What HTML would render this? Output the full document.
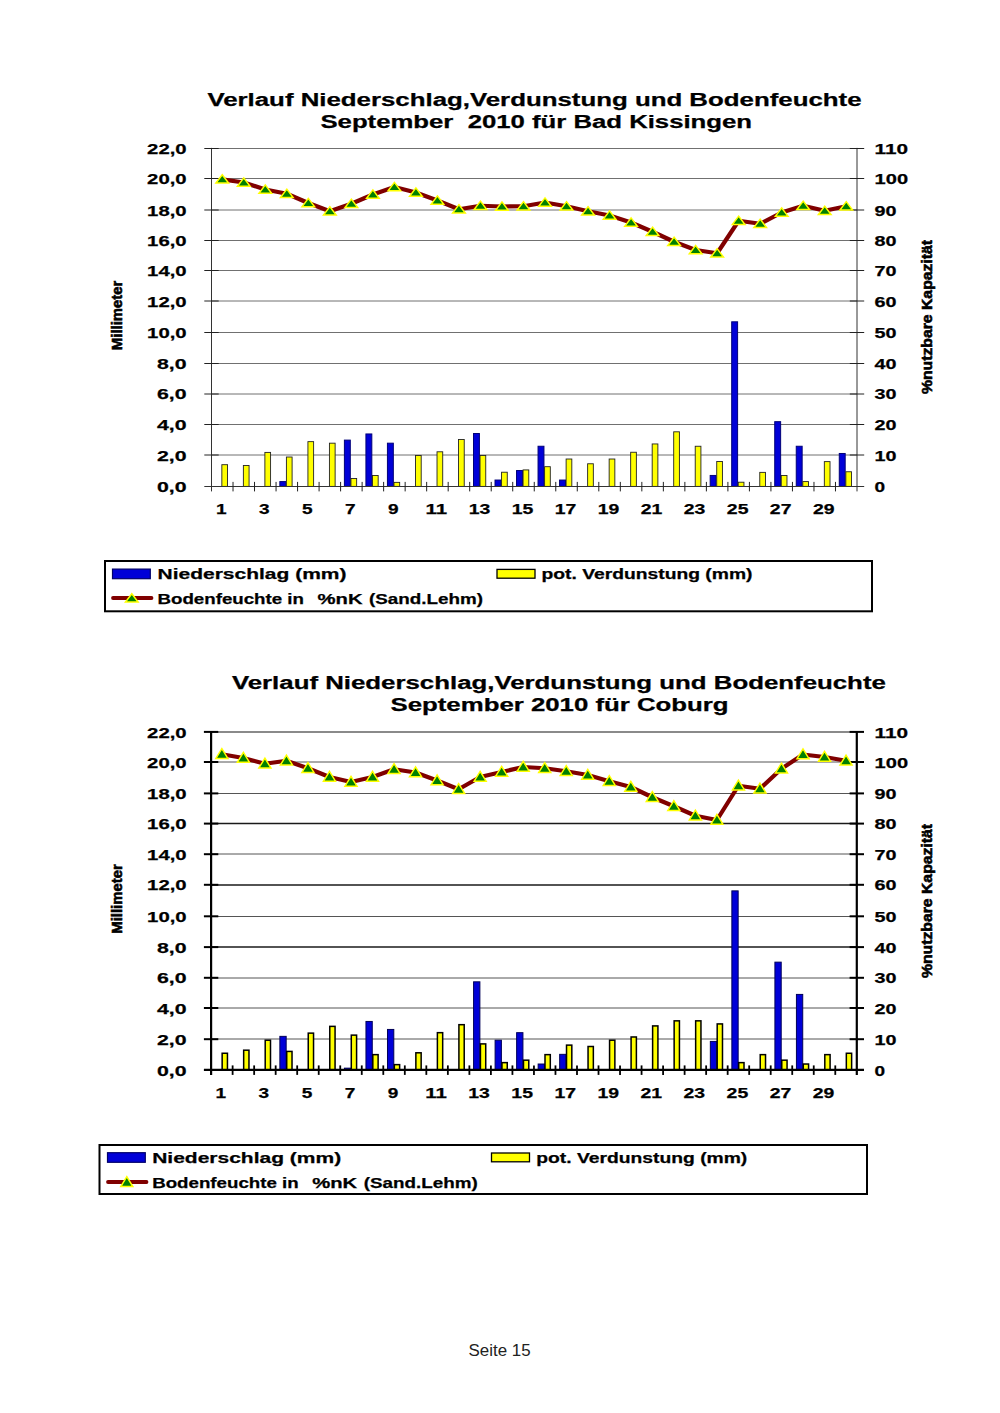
<!DOCTYPE html>
<html><head><meta charset="utf-8"><title>Seite 15</title>
<style>html,body{margin:0;padding:0;background:#fff;}body{width:1000px;height:1413px;overflow:hidden;font-family:"Liberation Sans",sans-serif;}svg{display:block;}svg text{font-family:"Liberation Sans",sans-serif;}</style>
</head><body>
<svg width="1000" height="1413" viewBox="0 0 1000 1413" font-family="Liberation Sans, sans-serif">
<rect width="1000" height="1413" fill="#fff"/>
<line x1="211.5" y1="148.50" x2="857.0" y2="148.50" stroke="#707070" stroke-width="1"/>
<line x1="211.5" y1="178.50" x2="857.0" y2="178.50" stroke="#707070" stroke-width="1"/>
<line x1="211.5" y1="210.00" x2="857.0" y2="210.00" stroke="#707070" stroke-width="1"/>
<line x1="211.5" y1="240.50" x2="857.0" y2="240.50" stroke="#707070" stroke-width="1"/>
<line x1="211.5" y1="270.50" x2="857.0" y2="270.50" stroke="#707070" stroke-width="1"/>
<line x1="211.5" y1="301.00" x2="857.0" y2="301.00" stroke="#707070" stroke-width="1"/>
<line x1="211.5" y1="332.50" x2="857.0" y2="332.50" stroke="#707070" stroke-width="1"/>
<line x1="211.5" y1="363.50" x2="857.0" y2="363.50" stroke="#707070" stroke-width="1"/>
<line x1="211.5" y1="394.00" x2="857.0" y2="394.00" stroke="#707070" stroke-width="1"/>
<line x1="211.5" y1="424.50" x2="857.0" y2="424.50" stroke="#707070" stroke-width="1"/>
<line x1="211.5" y1="455.00" x2="857.0" y2="455.00" stroke="#707070" stroke-width="1"/>
<rect x="221.85" y="464.69" width="5.70" height="21.71" fill="#ffff00" stroke="#222" stroke-width="0.9"/>
<rect x="243.37" y="465.46" width="5.70" height="20.94" fill="#ffff00" stroke="#222" stroke-width="0.9"/>
<rect x="264.88" y="452.40" width="5.70" height="34.00" fill="#ffff00" stroke="#222" stroke-width="0.9"/>
<rect x="279.85" y="481.59" width="5.90" height="4.81" fill="#0000d8" stroke="#000078" stroke-width="1"/>
<rect x="286.40" y="457.01" width="5.70" height="29.39" fill="#ffff00" stroke="#222" stroke-width="0.9"/>
<rect x="307.92" y="441.65" width="5.70" height="44.75" fill="#ffff00" stroke="#222" stroke-width="0.9"/>
<rect x="329.43" y="443.18" width="5.70" height="43.22" fill="#ffff00" stroke="#222" stroke-width="0.9"/>
<rect x="344.40" y="440.11" width="5.90" height="46.29" fill="#0000d8" stroke="#000078" stroke-width="1"/>
<rect x="350.95" y="478.52" width="5.70" height="7.88" fill="#ffff00" stroke="#222" stroke-width="0.9"/>
<rect x="365.92" y="433.96" width="5.90" height="52.44" fill="#0000d8" stroke="#000078" stroke-width="1"/>
<rect x="372.47" y="475.45" width="5.70" height="10.95" fill="#ffff00" stroke="#222" stroke-width="0.9"/>
<rect x="387.43" y="443.18" width="5.90" height="43.22" fill="#0000d8" stroke="#000078" stroke-width="1"/>
<rect x="393.98" y="482.36" width="5.70" height="4.04" fill="#ffff00" stroke="#222" stroke-width="0.9"/>
<rect x="415.50" y="455.47" width="5.70" height="30.93" fill="#ffff00" stroke="#222" stroke-width="0.9"/>
<rect x="437.02" y="451.79" width="5.70" height="34.61" fill="#ffff00" stroke="#222" stroke-width="0.9"/>
<rect x="458.53" y="439.49" width="5.70" height="46.91" fill="#ffff00" stroke="#222" stroke-width="0.9"/>
<rect x="473.50" y="433.50" width="5.90" height="52.90" fill="#0000d8" stroke="#000078" stroke-width="1"/>
<rect x="480.05" y="455.47" width="5.70" height="30.93" fill="#ffff00" stroke="#222" stroke-width="0.9"/>
<rect x="495.02" y="480.05" width="5.90" height="6.35" fill="#0000d8" stroke="#000078" stroke-width="1"/>
<rect x="501.57" y="472.22" width="5.70" height="14.18" fill="#ffff00" stroke="#222" stroke-width="0.9"/>
<rect x="516.53" y="470.53" width="5.90" height="15.87" fill="#0000d8" stroke="#000078" stroke-width="1"/>
<rect x="523.08" y="469.91" width="5.70" height="16.49" fill="#ffff00" stroke="#222" stroke-width="0.9"/>
<rect x="538.05" y="446.25" width="5.90" height="40.15" fill="#0000d8" stroke="#000078" stroke-width="1"/>
<rect x="544.60" y="466.69" width="5.70" height="19.71" fill="#ffff00" stroke="#222" stroke-width="0.9"/>
<rect x="559.57" y="480.05" width="5.90" height="6.35" fill="#0000d8" stroke="#000078" stroke-width="1"/>
<rect x="566.12" y="459.01" width="5.70" height="27.39" fill="#ffff00" stroke="#222" stroke-width="0.9"/>
<rect x="587.63" y="463.77" width="5.70" height="22.63" fill="#ffff00" stroke="#222" stroke-width="0.9"/>
<rect x="609.15" y="459.01" width="5.70" height="27.39" fill="#ffff00" stroke="#222" stroke-width="0.9"/>
<rect x="630.67" y="452.25" width="5.70" height="34.15" fill="#ffff00" stroke="#222" stroke-width="0.9"/>
<rect x="652.18" y="443.95" width="5.70" height="42.45" fill="#ffff00" stroke="#222" stroke-width="0.9"/>
<rect x="673.70" y="431.81" width="5.70" height="54.59" fill="#ffff00" stroke="#222" stroke-width="0.9"/>
<rect x="695.22" y="446.25" width="5.70" height="40.15" fill="#ffff00" stroke="#222" stroke-width="0.9"/>
<rect x="710.18" y="475.45" width="5.90" height="10.95" fill="#0000d8" stroke="#000078" stroke-width="1"/>
<rect x="716.73" y="461.46" width="5.70" height="24.94" fill="#ffff00" stroke="#222" stroke-width="0.9"/>
<rect x="731.70" y="321.81" width="5.90" height="164.59" fill="#0000d8" stroke="#000078" stroke-width="1"/>
<rect x="738.25" y="482.21" width="5.70" height="4.19" fill="#ffff00" stroke="#222" stroke-width="0.9"/>
<rect x="759.77" y="472.37" width="5.70" height="14.03" fill="#ffff00" stroke="#222" stroke-width="0.9"/>
<rect x="774.73" y="421.67" width="5.90" height="64.73" fill="#0000d8" stroke="#000078" stroke-width="1"/>
<rect x="781.28" y="475.45" width="5.70" height="10.95" fill="#ffff00" stroke="#222" stroke-width="0.9"/>
<rect x="796.25" y="446.25" width="5.90" height="40.15" fill="#0000d8" stroke="#000078" stroke-width="1"/>
<rect x="802.80" y="481.59" width="5.70" height="4.81" fill="#ffff00" stroke="#222" stroke-width="0.9"/>
<rect x="824.32" y="461.62" width="5.70" height="24.78" fill="#ffff00" stroke="#222" stroke-width="0.9"/>
<rect x="839.28" y="453.48" width="5.90" height="32.92" fill="#0000d8" stroke="#000078" stroke-width="1"/>
<rect x="845.83" y="471.76" width="5.70" height="14.64" fill="#ffff00" stroke="#222" stroke-width="0.9"/>
<line x1="211.5" y1="147.9" x2="211.5" y2="491.4" stroke="#333" stroke-width="1"/>
<line x1="857.0" y1="147.9" x2="857.0" y2="491.4" stroke="#333" stroke-width="1"/>
<line x1="204.3" y1="486.5" x2="864.2" y2="486.5" stroke="#333" stroke-width="1"/>
<line x1="204.3" y1="148.50" x2="218.7" y2="148.50" stroke="#222" stroke-width="1"/>
<line x1="849.8" y1="148.50" x2="864.2" y2="148.50" stroke="#222" stroke-width="1"/>
<line x1="204.3" y1="178.50" x2="218.7" y2="178.50" stroke="#222" stroke-width="1"/>
<line x1="849.8" y1="178.50" x2="864.2" y2="178.50" stroke="#222" stroke-width="1"/>
<line x1="204.3" y1="210.00" x2="218.7" y2="210.00" stroke="#222" stroke-width="1"/>
<line x1="849.8" y1="210.00" x2="864.2" y2="210.00" stroke="#222" stroke-width="1"/>
<line x1="204.3" y1="240.50" x2="218.7" y2="240.50" stroke="#222" stroke-width="1"/>
<line x1="849.8" y1="240.50" x2="864.2" y2="240.50" stroke="#222" stroke-width="1"/>
<line x1="204.3" y1="270.50" x2="218.7" y2="270.50" stroke="#222" stroke-width="1"/>
<line x1="849.8" y1="270.50" x2="864.2" y2="270.50" stroke="#222" stroke-width="1"/>
<line x1="204.3" y1="301.00" x2="218.7" y2="301.00" stroke="#222" stroke-width="1"/>
<line x1="849.8" y1="301.00" x2="864.2" y2="301.00" stroke="#222" stroke-width="1"/>
<line x1="204.3" y1="332.50" x2="218.7" y2="332.50" stroke="#222" stroke-width="1"/>
<line x1="849.8" y1="332.50" x2="864.2" y2="332.50" stroke="#222" stroke-width="1"/>
<line x1="204.3" y1="363.50" x2="218.7" y2="363.50" stroke="#222" stroke-width="1"/>
<line x1="849.8" y1="363.50" x2="864.2" y2="363.50" stroke="#222" stroke-width="1"/>
<line x1="204.3" y1="394.00" x2="218.7" y2="394.00" stroke="#222" stroke-width="1"/>
<line x1="849.8" y1="394.00" x2="864.2" y2="394.00" stroke="#222" stroke-width="1"/>
<line x1="204.3" y1="424.50" x2="218.7" y2="424.50" stroke="#222" stroke-width="1"/>
<line x1="849.8" y1="424.50" x2="864.2" y2="424.50" stroke="#222" stroke-width="1"/>
<line x1="204.3" y1="455.00" x2="218.7" y2="455.00" stroke="#222" stroke-width="1"/>
<line x1="849.8" y1="455.00" x2="864.2" y2="455.00" stroke="#222" stroke-width="1"/>
<line x1="233.02" y1="481.9" x2="233.02" y2="491.4" stroke="#222" stroke-width="1"/>
<line x1="254.53" y1="481.9" x2="254.53" y2="491.4" stroke="#222" stroke-width="1"/>
<line x1="276.05" y1="481.9" x2="276.05" y2="491.4" stroke="#222" stroke-width="1"/>
<line x1="297.57" y1="481.9" x2="297.57" y2="491.4" stroke="#222" stroke-width="1"/>
<line x1="319.08" y1="481.9" x2="319.08" y2="491.4" stroke="#222" stroke-width="1"/>
<line x1="340.60" y1="481.9" x2="340.60" y2="491.4" stroke="#222" stroke-width="1"/>
<line x1="362.12" y1="481.9" x2="362.12" y2="491.4" stroke="#222" stroke-width="1"/>
<line x1="383.63" y1="481.9" x2="383.63" y2="491.4" stroke="#222" stroke-width="1"/>
<line x1="405.15" y1="481.9" x2="405.15" y2="491.4" stroke="#222" stroke-width="1"/>
<line x1="426.67" y1="481.9" x2="426.67" y2="491.4" stroke="#222" stroke-width="1"/>
<line x1="448.18" y1="481.9" x2="448.18" y2="491.4" stroke="#222" stroke-width="1"/>
<line x1="469.70" y1="481.9" x2="469.70" y2="491.4" stroke="#222" stroke-width="1"/>
<line x1="491.22" y1="481.9" x2="491.22" y2="491.4" stroke="#222" stroke-width="1"/>
<line x1="512.73" y1="481.9" x2="512.73" y2="491.4" stroke="#222" stroke-width="1"/>
<line x1="534.25" y1="481.9" x2="534.25" y2="491.4" stroke="#222" stroke-width="1"/>
<line x1="555.77" y1="481.9" x2="555.77" y2="491.4" stroke="#222" stroke-width="1"/>
<line x1="577.28" y1="481.9" x2="577.28" y2="491.4" stroke="#222" stroke-width="1"/>
<line x1="598.80" y1="481.9" x2="598.80" y2="491.4" stroke="#222" stroke-width="1"/>
<line x1="620.32" y1="481.9" x2="620.32" y2="491.4" stroke="#222" stroke-width="1"/>
<line x1="641.83" y1="481.9" x2="641.83" y2="491.4" stroke="#222" stroke-width="1"/>
<line x1="663.35" y1="481.9" x2="663.35" y2="491.4" stroke="#222" stroke-width="1"/>
<line x1="684.87" y1="481.9" x2="684.87" y2="491.4" stroke="#222" stroke-width="1"/>
<line x1="706.38" y1="481.9" x2="706.38" y2="491.4" stroke="#222" stroke-width="1"/>
<line x1="727.90" y1="481.9" x2="727.90" y2="491.4" stroke="#222" stroke-width="1"/>
<line x1="749.42" y1="481.9" x2="749.42" y2="491.4" stroke="#222" stroke-width="1"/>
<line x1="770.93" y1="481.9" x2="770.93" y2="491.4" stroke="#222" stroke-width="1"/>
<line x1="792.45" y1="481.9" x2="792.45" y2="491.4" stroke="#222" stroke-width="1"/>
<line x1="813.97" y1="481.9" x2="813.97" y2="491.4" stroke="#222" stroke-width="1"/>
<line x1="835.48" y1="481.9" x2="835.48" y2="491.4" stroke="#222" stroke-width="1"/>
<polyline points="222.26,179.30 243.78,182.50 265.29,189.50 286.81,193.75 308.32,203.00 329.84,211.25 351.36,203.75 372.88,194.50 394.39,187.00 415.91,192.50 437.42,200.50 458.94,209.25 480.46,205.75 501.97,206.50 523.49,206.25 545.01,202.50 566.52,206.25 588.04,211.25 609.56,215.50 631.08,222.50 652.59,231.75 674.11,241.75 695.62,250.00 717.14,253.25 738.66,220.75 760.17,223.75 781.69,212.50 803.21,205.75 824.73,210.75 846.24,206.25" fill="none" stroke="#800000" stroke-width="4.2" stroke-linejoin="round" stroke-linecap="round"/>
<polygon points="222.26,174.70 228.56,183.10 215.96,183.10" fill="#008000" stroke="#ffff00" stroke-width="1.5" stroke-linejoin="miter"/>
<polygon points="243.78,177.90 250.08,186.30 237.47,186.30" fill="#008000" stroke="#ffff00" stroke-width="1.5" stroke-linejoin="miter"/>
<polygon points="265.29,184.90 271.59,193.30 258.99,193.30" fill="#008000" stroke="#ffff00" stroke-width="1.5" stroke-linejoin="miter"/>
<polygon points="286.81,189.15 293.11,197.55 280.51,197.55" fill="#008000" stroke="#ffff00" stroke-width="1.5" stroke-linejoin="miter"/>
<polygon points="308.32,198.40 314.62,206.80 302.02,206.80" fill="#008000" stroke="#ffff00" stroke-width="1.5" stroke-linejoin="miter"/>
<polygon points="329.84,206.65 336.14,215.05 323.54,215.05" fill="#008000" stroke="#ffff00" stroke-width="1.5" stroke-linejoin="miter"/>
<polygon points="351.36,199.15 357.66,207.55 345.06,207.55" fill="#008000" stroke="#ffff00" stroke-width="1.5" stroke-linejoin="miter"/>
<polygon points="372.88,189.90 379.18,198.30 366.57,198.30" fill="#008000" stroke="#ffff00" stroke-width="1.5" stroke-linejoin="miter"/>
<polygon points="394.39,182.40 400.69,190.80 388.09,190.80" fill="#008000" stroke="#ffff00" stroke-width="1.5" stroke-linejoin="miter"/>
<polygon points="415.91,187.90 422.21,196.30 409.61,196.30" fill="#008000" stroke="#ffff00" stroke-width="1.5" stroke-linejoin="miter"/>
<polygon points="437.42,195.90 443.72,204.30 431.12,204.30" fill="#008000" stroke="#ffff00" stroke-width="1.5" stroke-linejoin="miter"/>
<polygon points="458.94,204.65 465.24,213.05 452.64,213.05" fill="#008000" stroke="#ffff00" stroke-width="1.5" stroke-linejoin="miter"/>
<polygon points="480.46,201.15 486.76,209.55 474.16,209.55" fill="#008000" stroke="#ffff00" stroke-width="1.5" stroke-linejoin="miter"/>
<polygon points="501.97,201.90 508.27,210.30 495.67,210.30" fill="#008000" stroke="#ffff00" stroke-width="1.5" stroke-linejoin="miter"/>
<polygon points="523.49,201.65 529.79,210.05 517.19,210.05" fill="#008000" stroke="#ffff00" stroke-width="1.5" stroke-linejoin="miter"/>
<polygon points="545.01,197.90 551.31,206.30 538.71,206.30" fill="#008000" stroke="#ffff00" stroke-width="1.5" stroke-linejoin="miter"/>
<polygon points="566.52,201.65 572.82,210.05 560.23,210.05" fill="#008000" stroke="#ffff00" stroke-width="1.5" stroke-linejoin="miter"/>
<polygon points="588.04,206.65 594.34,215.05 581.74,215.05" fill="#008000" stroke="#ffff00" stroke-width="1.5" stroke-linejoin="miter"/>
<polygon points="609.56,210.90 615.86,219.30 603.26,219.30" fill="#008000" stroke="#ffff00" stroke-width="1.5" stroke-linejoin="miter"/>
<polygon points="631.08,217.90 637.38,226.30 624.78,226.30" fill="#008000" stroke="#ffff00" stroke-width="1.5" stroke-linejoin="miter"/>
<polygon points="652.59,227.15 658.89,235.55 646.29,235.55" fill="#008000" stroke="#ffff00" stroke-width="1.5" stroke-linejoin="miter"/>
<polygon points="674.11,237.15 680.41,245.55 667.81,245.55" fill="#008000" stroke="#ffff00" stroke-width="1.5" stroke-linejoin="miter"/>
<polygon points="695.62,245.40 701.92,253.80 689.33,253.80" fill="#008000" stroke="#ffff00" stroke-width="1.5" stroke-linejoin="miter"/>
<polygon points="717.14,248.65 723.44,257.05 710.84,257.05" fill="#008000" stroke="#ffff00" stroke-width="1.5" stroke-linejoin="miter"/>
<polygon points="738.66,216.15 744.96,224.55 732.36,224.55" fill="#008000" stroke="#ffff00" stroke-width="1.5" stroke-linejoin="miter"/>
<polygon points="760.17,219.15 766.47,227.55 753.88,227.55" fill="#008000" stroke="#ffff00" stroke-width="1.5" stroke-linejoin="miter"/>
<polygon points="781.69,207.90 787.99,216.30 775.39,216.30" fill="#008000" stroke="#ffff00" stroke-width="1.5" stroke-linejoin="miter"/>
<polygon points="803.21,201.15 809.51,209.55 796.91,209.55" fill="#008000" stroke="#ffff00" stroke-width="1.5" stroke-linejoin="miter"/>
<polygon points="824.73,206.15 831.02,214.55 818.43,214.55" fill="#008000" stroke="#ffff00" stroke-width="1.5" stroke-linejoin="miter"/>
<polygon points="846.24,201.65 852.54,210.05 839.94,210.05" fill="#008000" stroke="#ffff00" stroke-width="1.5" stroke-linejoin="miter"/>
<text x="186.60" y="154.00" font-size="15.5" font-weight="bold" text-anchor="end" fill="#000" stroke="#000" stroke-width="0.25" textLength="39.5" lengthAdjust="spacingAndGlyphs" xml:space="preserve">22,0</text>
<text x="874.60" y="154.00" font-size="15.5" font-weight="bold" text-anchor="start" fill="#000" stroke="#000" stroke-width="0.25" textLength="33.5" lengthAdjust="spacingAndGlyphs" xml:space="preserve">110</text>
<text x="186.60" y="184.00" font-size="15.5" font-weight="bold" text-anchor="end" fill="#000" stroke="#000" stroke-width="0.25" textLength="39.5" lengthAdjust="spacingAndGlyphs" xml:space="preserve">20,0</text>
<text x="874.60" y="184.00" font-size="15.5" font-weight="bold" text-anchor="start" fill="#000" stroke="#000" stroke-width="0.25" textLength="33.5" lengthAdjust="spacingAndGlyphs" xml:space="preserve">100</text>
<text x="186.60" y="215.70" font-size="15.5" font-weight="bold" text-anchor="end" fill="#000" stroke="#000" stroke-width="0.25" textLength="39.5" lengthAdjust="spacingAndGlyphs" xml:space="preserve">18,0</text>
<text x="874.60" y="215.70" font-size="15.5" font-weight="bold" text-anchor="start" fill="#000" stroke="#000" stroke-width="0.25" textLength="22.0" lengthAdjust="spacingAndGlyphs" xml:space="preserve">90</text>
<text x="186.60" y="246.00" font-size="15.5" font-weight="bold" text-anchor="end" fill="#000" stroke="#000" stroke-width="0.25" textLength="39.5" lengthAdjust="spacingAndGlyphs" xml:space="preserve">16,0</text>
<text x="874.60" y="246.00" font-size="15.5" font-weight="bold" text-anchor="start" fill="#000" stroke="#000" stroke-width="0.25" textLength="22.0" lengthAdjust="spacingAndGlyphs" xml:space="preserve">80</text>
<text x="186.60" y="276.20" font-size="15.5" font-weight="bold" text-anchor="end" fill="#000" stroke="#000" stroke-width="0.25" textLength="39.5" lengthAdjust="spacingAndGlyphs" xml:space="preserve">14,0</text>
<text x="874.60" y="276.20" font-size="15.5" font-weight="bold" text-anchor="start" fill="#000" stroke="#000" stroke-width="0.25" textLength="22.0" lengthAdjust="spacingAndGlyphs" xml:space="preserve">70</text>
<text x="186.60" y="306.70" font-size="15.5" font-weight="bold" text-anchor="end" fill="#000" stroke="#000" stroke-width="0.25" textLength="39.5" lengthAdjust="spacingAndGlyphs" xml:space="preserve">12,0</text>
<text x="874.60" y="306.70" font-size="15.5" font-weight="bold" text-anchor="start" fill="#000" stroke="#000" stroke-width="0.25" textLength="22.0" lengthAdjust="spacingAndGlyphs" xml:space="preserve">60</text>
<text x="186.60" y="337.90" font-size="15.5" font-weight="bold" text-anchor="end" fill="#000" stroke="#000" stroke-width="0.25" textLength="39.5" lengthAdjust="spacingAndGlyphs" xml:space="preserve">10,0</text>
<text x="874.60" y="337.90" font-size="15.5" font-weight="bold" text-anchor="start" fill="#000" stroke="#000" stroke-width="0.25" textLength="22.0" lengthAdjust="spacingAndGlyphs" xml:space="preserve">50</text>
<text x="186.60" y="369.10" font-size="15.5" font-weight="bold" text-anchor="end" fill="#000" stroke="#000" stroke-width="0.25" textLength="29.6" lengthAdjust="spacingAndGlyphs" xml:space="preserve">8,0</text>
<text x="874.60" y="369.10" font-size="15.5" font-weight="bold" text-anchor="start" fill="#000" stroke="#000" stroke-width="0.25" textLength="22.0" lengthAdjust="spacingAndGlyphs" xml:space="preserve">40</text>
<text x="186.60" y="399.40" font-size="15.5" font-weight="bold" text-anchor="end" fill="#000" stroke="#000" stroke-width="0.25" textLength="29.6" lengthAdjust="spacingAndGlyphs" xml:space="preserve">6,0</text>
<text x="874.60" y="399.40" font-size="15.5" font-weight="bold" text-anchor="start" fill="#000" stroke="#000" stroke-width="0.25" textLength="22.0" lengthAdjust="spacingAndGlyphs" xml:space="preserve">30</text>
<text x="186.60" y="430.20" font-size="15.5" font-weight="bold" text-anchor="end" fill="#000" stroke="#000" stroke-width="0.25" textLength="29.6" lengthAdjust="spacingAndGlyphs" xml:space="preserve">4,0</text>
<text x="874.60" y="430.20" font-size="15.5" font-weight="bold" text-anchor="start" fill="#000" stroke="#000" stroke-width="0.25" textLength="22.0" lengthAdjust="spacingAndGlyphs" xml:space="preserve">20</text>
<text x="186.60" y="460.80" font-size="15.5" font-weight="bold" text-anchor="end" fill="#000" stroke="#000" stroke-width="0.25" textLength="29.6" lengthAdjust="spacingAndGlyphs" xml:space="preserve">2,0</text>
<text x="874.60" y="460.80" font-size="15.5" font-weight="bold" text-anchor="start" fill="#000" stroke="#000" stroke-width="0.25" textLength="22.0" lengthAdjust="spacingAndGlyphs" xml:space="preserve">10</text>
<text x="186.60" y="492.00" font-size="15.5" font-weight="bold" text-anchor="end" fill="#000" stroke="#000" stroke-width="0.25" textLength="29.6" lengthAdjust="spacingAndGlyphs" xml:space="preserve">0,0</text>
<text x="874.60" y="492.00" font-size="15.5" font-weight="bold" text-anchor="start" fill="#000" stroke="#000" stroke-width="0.25" textLength="10.6" lengthAdjust="spacingAndGlyphs" xml:space="preserve">0</text>
<text x="221.26" y="514.30" font-size="15.5" font-weight="bold" text-anchor="middle" fill="#000" stroke="#000" stroke-width="0.25" textLength="10.6" lengthAdjust="spacingAndGlyphs" xml:space="preserve">1</text>
<text x="264.29" y="514.30" font-size="15.5" font-weight="bold" text-anchor="middle" fill="#000" stroke="#000" stroke-width="0.25" textLength="10.6" lengthAdjust="spacingAndGlyphs" xml:space="preserve">3</text>
<text x="307.32" y="514.30" font-size="15.5" font-weight="bold" text-anchor="middle" fill="#000" stroke="#000" stroke-width="0.25" textLength="10.6" lengthAdjust="spacingAndGlyphs" xml:space="preserve">5</text>
<text x="350.36" y="514.30" font-size="15.5" font-weight="bold" text-anchor="middle" fill="#000" stroke="#000" stroke-width="0.25" textLength="10.6" lengthAdjust="spacingAndGlyphs" xml:space="preserve">7</text>
<text x="393.39" y="514.30" font-size="15.5" font-weight="bold" text-anchor="middle" fill="#000" stroke="#000" stroke-width="0.25" textLength="10.6" lengthAdjust="spacingAndGlyphs" xml:space="preserve">9</text>
<text x="436.42" y="514.30" font-size="15.5" font-weight="bold" text-anchor="middle" fill="#000" stroke="#000" stroke-width="0.25" textLength="21.6" lengthAdjust="spacingAndGlyphs" xml:space="preserve">11</text>
<text x="479.46" y="514.30" font-size="15.5" font-weight="bold" text-anchor="middle" fill="#000" stroke="#000" stroke-width="0.25" textLength="21.6" lengthAdjust="spacingAndGlyphs" xml:space="preserve">13</text>
<text x="522.49" y="514.30" font-size="15.5" font-weight="bold" text-anchor="middle" fill="#000" stroke="#000" stroke-width="0.25" textLength="21.6" lengthAdjust="spacingAndGlyphs" xml:space="preserve">15</text>
<text x="565.52" y="514.30" font-size="15.5" font-weight="bold" text-anchor="middle" fill="#000" stroke="#000" stroke-width="0.25" textLength="21.6" lengthAdjust="spacingAndGlyphs" xml:space="preserve">17</text>
<text x="608.56" y="514.30" font-size="15.5" font-weight="bold" text-anchor="middle" fill="#000" stroke="#000" stroke-width="0.25" textLength="21.6" lengthAdjust="spacingAndGlyphs" xml:space="preserve">19</text>
<text x="651.59" y="514.30" font-size="15.5" font-weight="bold" text-anchor="middle" fill="#000" stroke="#000" stroke-width="0.25" textLength="21.6" lengthAdjust="spacingAndGlyphs" xml:space="preserve">21</text>
<text x="694.62" y="514.30" font-size="15.5" font-weight="bold" text-anchor="middle" fill="#000" stroke="#000" stroke-width="0.25" textLength="21.6" lengthAdjust="spacingAndGlyphs" xml:space="preserve">23</text>
<text x="737.66" y="514.30" font-size="15.5" font-weight="bold" text-anchor="middle" fill="#000" stroke="#000" stroke-width="0.25" textLength="21.6" lengthAdjust="spacingAndGlyphs" xml:space="preserve">25</text>
<text x="780.69" y="514.30" font-size="15.5" font-weight="bold" text-anchor="middle" fill="#000" stroke="#000" stroke-width="0.25" textLength="21.6" lengthAdjust="spacingAndGlyphs" xml:space="preserve">27</text>
<text x="823.73" y="514.30" font-size="15.5" font-weight="bold" text-anchor="middle" fill="#000" stroke="#000" stroke-width="0.25" textLength="21.6" lengthAdjust="spacingAndGlyphs" xml:space="preserve">29</text>
<text x="207.40" y="105.80" font-size="17.5" font-weight="bold" text-anchor="start" fill="#000" stroke="#000" stroke-width="0.25" textLength="654.1" lengthAdjust="spacingAndGlyphs" xml:space="preserve">Verlauf Niederschlag,Verdunstung und Bodenfeuchte</text>
<text x="320.45" y="127.60" font-size="17.5" font-weight="bold" text-anchor="start" fill="#000" stroke="#000" stroke-width="0.25" textLength="431.6" lengthAdjust="spacingAndGlyphs" xml:space="preserve">September  2010 für Bad Kissingen</text>
<text transform="translate(122.4,315.4) rotate(-90)" font-size="15" font-weight="bold" text-anchor="middle" textLength="69.5" lengthAdjust="spacingAndGlyphs" stroke="#000" stroke-width="0.6">Millimeter</text>
<text transform="translate(932.1,317) rotate(-90)" font-size="15.3" font-weight="bold" text-anchor="middle" textLength="154" lengthAdjust="spacingAndGlyphs" stroke="#000" stroke-width="0.6">%nutzbare Kapazität</text>
<rect x="105" y="561" width="767" height="50.299999999999955" fill="#fff" stroke="#000" stroke-width="2"/>
<rect x="112.5" y="569.0999999999999" width="37.8" height="9.6" fill="#0000d8" stroke="#00006a" stroke-width="1.2"/>
<text x="157.50" y="579.40" font-size="15.2" font-weight="bold" text-anchor="start" fill="#000" stroke="#000" stroke-width="0.25" textLength="189.0" lengthAdjust="spacingAndGlyphs" xml:space="preserve">Niederschlag (mm)</text>
<rect x="497" y="569.4" width="38" height="8.8" fill="#ffff00" stroke="#000" stroke-width="1.3"/>
<text x="541.50" y="579.40" font-size="15.2" font-weight="bold" text-anchor="start" fill="#000" stroke="#000" stroke-width="0.25" textLength="211.0" lengthAdjust="spacingAndGlyphs" xml:space="preserve">pot. Verdunstung (mm)</text>
<line x1="113" y1="598" x2="151.5" y2="598" stroke="#800000" stroke-width="3.8" stroke-linecap="round"/>
<polygon points="131.80,593.70 138.10,602.10 125.50,602.10" fill="#008000" stroke="#ffff00" stroke-width="1.5" stroke-linejoin="miter"/>
<text x="157.50" y="604.00" font-size="15.2" font-weight="bold" text-anchor="start" fill="#000" stroke="#000" stroke-width="0.25" textLength="146.5" lengthAdjust="spacingAndGlyphs" xml:space="preserve">Bodenfeuchte in</text>
<text x="317.50" y="604.00" font-size="15.2" font-weight="bold" text-anchor="start" fill="#000" stroke="#000" stroke-width="0.25" textLength="45.0" lengthAdjust="spacingAndGlyphs" xml:space="preserve">%nK</text>
<text x="369.00" y="604.00" font-size="15.2" font-weight="bold" text-anchor="start" fill="#000" stroke="#000" stroke-width="0.25" textLength="114.0" lengthAdjust="spacingAndGlyphs" xml:space="preserve">(Sand.Lehm)</text>
<line x1="211.1" y1="731.90" x2="856.8" y2="731.90" stroke="#8a8a8a" stroke-width="2"/>
<line x1="211.1" y1="762.00" x2="856.8" y2="762.00" stroke="#555" stroke-width="1"/>
<line x1="211.1" y1="793.50" x2="856.8" y2="793.50" stroke="#555" stroke-width="1"/>
<line x1="211.1" y1="823.50" x2="856.8" y2="823.50" stroke="#1a1a1a" stroke-width="1.5"/>
<line x1="211.1" y1="854.00" x2="856.8" y2="854.00" stroke="#555" stroke-width="1"/>
<line x1="211.1" y1="885.00" x2="856.8" y2="885.00" stroke="#1a1a1a" stroke-width="1.5"/>
<line x1="211.1" y1="916.50" x2="856.8" y2="916.50" stroke="#555" stroke-width="1"/>
<line x1="211.1" y1="947.00" x2="856.8" y2="947.00" stroke="#1a1a1a" stroke-width="1.5"/>
<line x1="211.1" y1="978.00" x2="856.8" y2="978.00" stroke="#555" stroke-width="1"/>
<line x1="211.1" y1="1008.00" x2="856.8" y2="1008.00" stroke="#555" stroke-width="1"/>
<line x1="211.1" y1="1039.00" x2="856.8" y2="1039.00" stroke="#555" stroke-width="1"/>
<rect x="222.15" y="1053.26" width="5.30" height="16.64" fill="#ffff00" stroke="#000" stroke-width="1.5"/>
<rect x="243.67" y="1050.19" width="5.30" height="19.71" fill="#ffff00" stroke="#000" stroke-width="1.5"/>
<rect x="265.20" y="1040.20" width="5.30" height="29.70" fill="#ffff00" stroke="#000" stroke-width="1.5"/>
<rect x="279.87" y="1036.36" width="6.30" height="33.54" fill="#0000d8" stroke="#000058" stroke-width="1"/>
<rect x="286.72" y="1051.42" width="5.30" height="18.48" fill="#ffff00" stroke="#000" stroke-width="1.5"/>
<rect x="308.24" y="1033.13" width="5.30" height="36.77" fill="#ffff00" stroke="#000" stroke-width="1.5"/>
<rect x="329.77" y="1026.37" width="5.30" height="43.53" fill="#ffff00" stroke="#000" stroke-width="1.5"/>
<rect x="344.44" y="1068.16" width="6.30" height="1.74" fill="#0000d8" stroke="#000058" stroke-width="1"/>
<rect x="351.29" y="1035.13" width="5.30" height="34.77" fill="#ffff00" stroke="#000" stroke-width="1.5"/>
<rect x="365.96" y="1021.46" width="6.30" height="48.44" fill="#0000d8" stroke="#000058" stroke-width="1"/>
<rect x="372.81" y="1054.64" width="5.30" height="15.26" fill="#ffff00" stroke="#000" stroke-width="1.5"/>
<rect x="387.49" y="1029.45" width="6.30" height="40.45" fill="#0000d8" stroke="#000058" stroke-width="1"/>
<rect x="394.34" y="1064.63" width="5.30" height="5.27" fill="#ffff00" stroke="#000" stroke-width="1.5"/>
<rect x="415.86" y="1052.80" width="5.30" height="17.10" fill="#ffff00" stroke="#000" stroke-width="1.5"/>
<rect x="437.38" y="1032.67" width="5.30" height="37.23" fill="#ffff00" stroke="#000" stroke-width="1.5"/>
<rect x="458.91" y="1024.68" width="5.30" height="45.22" fill="#ffff00" stroke="#000" stroke-width="1.5"/>
<rect x="473.58" y="981.82" width="6.30" height="88.08" fill="#0000d8" stroke="#000058" stroke-width="1"/>
<rect x="480.43" y="1043.89" width="5.30" height="26.01" fill="#ffff00" stroke="#000" stroke-width="1.5"/>
<rect x="495.10" y="1040.20" width="6.30" height="29.70" fill="#0000d8" stroke="#000058" stroke-width="1"/>
<rect x="501.95" y="1062.63" width="5.30" height="7.27" fill="#ffff00" stroke="#000" stroke-width="1.5"/>
<rect x="516.63" y="1032.67" width="6.30" height="37.23" fill="#0000d8" stroke="#000058" stroke-width="1"/>
<rect x="523.48" y="1060.17" width="5.30" height="9.73" fill="#ffff00" stroke="#000" stroke-width="1.5"/>
<rect x="538.15" y="1064.02" width="6.30" height="5.88" fill="#0000d8" stroke="#000058" stroke-width="1"/>
<rect x="545.00" y="1054.64" width="5.30" height="15.26" fill="#ffff00" stroke="#000" stroke-width="1.5"/>
<rect x="559.67" y="1054.34" width="6.30" height="15.56" fill="#0000d8" stroke="#000058" stroke-width="1"/>
<rect x="566.52" y="1045.12" width="5.30" height="24.78" fill="#ffff00" stroke="#000" stroke-width="1.5"/>
<rect x="588.05" y="1046.50" width="5.30" height="23.40" fill="#ffff00" stroke="#000" stroke-width="1.5"/>
<rect x="609.57" y="1040.20" width="5.30" height="29.70" fill="#ffff00" stroke="#000" stroke-width="1.5"/>
<rect x="631.09" y="1036.98" width="5.30" height="32.92" fill="#ffff00" stroke="#000" stroke-width="1.5"/>
<rect x="652.62" y="1025.91" width="5.30" height="43.99" fill="#ffff00" stroke="#000" stroke-width="1.5"/>
<rect x="674.14" y="1020.84" width="5.30" height="49.06" fill="#ffff00" stroke="#000" stroke-width="1.5"/>
<rect x="695.66" y="1020.84" width="5.30" height="49.06" fill="#ffff00" stroke="#000" stroke-width="1.5"/>
<rect x="710.34" y="1041.43" width="6.30" height="28.47" fill="#0000d8" stroke="#000058" stroke-width="1"/>
<rect x="717.19" y="1023.92" width="5.30" height="45.98" fill="#ffff00" stroke="#000" stroke-width="1.5"/>
<rect x="731.86" y="890.87" width="6.30" height="179.03" fill="#0000d8" stroke="#000058" stroke-width="1"/>
<rect x="738.71" y="1062.63" width="5.30" height="7.27" fill="#ffff00" stroke="#000" stroke-width="1.5"/>
<rect x="760.23" y="1054.64" width="5.30" height="15.26" fill="#ffff00" stroke="#000" stroke-width="1.5"/>
<rect x="774.91" y="962.15" width="6.30" height="107.75" fill="#0000d8" stroke="#000058" stroke-width="1"/>
<rect x="781.76" y="1060.17" width="5.30" height="9.73" fill="#ffff00" stroke="#000" stroke-width="1.5"/>
<rect x="796.43" y="994.42" width="6.30" height="75.48" fill="#0000d8" stroke="#000058" stroke-width="1"/>
<rect x="803.28" y="1064.02" width="5.30" height="5.88" fill="#ffff00" stroke="#000" stroke-width="1.5"/>
<rect x="824.80" y="1054.64" width="5.30" height="15.26" fill="#ffff00" stroke="#000" stroke-width="1.5"/>
<rect x="846.33" y="1053.26" width="5.30" height="16.64" fill="#ffff00" stroke="#000" stroke-width="1.5"/>
<line x1="211.1" y1="731.4" x2="211.1" y2="1074.9" stroke="#000" stroke-width="2.2"/>
<line x1="856.8" y1="731.4" x2="856.8" y2="1074.9" stroke="#000" stroke-width="2.2"/>
<line x1="203.9" y1="1069.9" x2="864.0" y2="1069.9" stroke="#000" stroke-width="2.2"/>
<line x1="203.9" y1="731.90" x2="218.29999999999998" y2="731.90" stroke="#000" stroke-width="2"/>
<line x1="849.5999999999999" y1="731.90" x2="864.0" y2="731.90" stroke="#000" stroke-width="2"/>
<line x1="203.9" y1="762.00" x2="218.29999999999998" y2="762.00" stroke="#000" stroke-width="2"/>
<line x1="849.5999999999999" y1="762.00" x2="864.0" y2="762.00" stroke="#000" stroke-width="2"/>
<line x1="203.9" y1="793.40" x2="218.29999999999998" y2="793.40" stroke="#000" stroke-width="2"/>
<line x1="849.5999999999999" y1="793.40" x2="864.0" y2="793.40" stroke="#000" stroke-width="2"/>
<line x1="203.9" y1="823.60" x2="218.29999999999998" y2="823.60" stroke="#000" stroke-width="2"/>
<line x1="849.5999999999999" y1="823.60" x2="864.0" y2="823.60" stroke="#000" stroke-width="2"/>
<line x1="203.9" y1="854.20" x2="218.29999999999998" y2="854.20" stroke="#000" stroke-width="2"/>
<line x1="849.5999999999999" y1="854.20" x2="864.0" y2="854.20" stroke="#000" stroke-width="2"/>
<line x1="203.9" y1="884.80" x2="218.29999999999998" y2="884.80" stroke="#000" stroke-width="2"/>
<line x1="849.5999999999999" y1="884.80" x2="864.0" y2="884.80" stroke="#000" stroke-width="2"/>
<line x1="203.9" y1="916.30" x2="218.29999999999998" y2="916.30" stroke="#000" stroke-width="2"/>
<line x1="849.5999999999999" y1="916.30" x2="864.0" y2="916.30" stroke="#000" stroke-width="2"/>
<line x1="203.9" y1="947.10" x2="218.29999999999998" y2="947.10" stroke="#000" stroke-width="2"/>
<line x1="849.5999999999999" y1="947.10" x2="864.0" y2="947.10" stroke="#000" stroke-width="2"/>
<line x1="203.9" y1="977.80" x2="218.29999999999998" y2="977.80" stroke="#000" stroke-width="2"/>
<line x1="849.5999999999999" y1="977.80" x2="864.0" y2="977.80" stroke="#000" stroke-width="2"/>
<line x1="203.9" y1="1008.00" x2="218.29999999999998" y2="1008.00" stroke="#000" stroke-width="2"/>
<line x1="849.5999999999999" y1="1008.00" x2="864.0" y2="1008.00" stroke="#000" stroke-width="2"/>
<line x1="203.9" y1="1039.20" x2="218.29999999999998" y2="1039.20" stroke="#000" stroke-width="2"/>
<line x1="849.5999999999999" y1="1039.20" x2="864.0" y2="1039.20" stroke="#000" stroke-width="2"/>
<line x1="232.62" y1="1065.4" x2="232.62" y2="1074.9" stroke="#000" stroke-width="1.8"/>
<line x1="254.15" y1="1065.4" x2="254.15" y2="1074.9" stroke="#000" stroke-width="1.8"/>
<line x1="275.67" y1="1065.4" x2="275.67" y2="1074.9" stroke="#000" stroke-width="1.8"/>
<line x1="297.19" y1="1065.4" x2="297.19" y2="1074.9" stroke="#000" stroke-width="1.8"/>
<line x1="318.72" y1="1065.4" x2="318.72" y2="1074.9" stroke="#000" stroke-width="1.8"/>
<line x1="340.24" y1="1065.4" x2="340.24" y2="1074.9" stroke="#000" stroke-width="1.8"/>
<line x1="361.76" y1="1065.4" x2="361.76" y2="1074.9" stroke="#000" stroke-width="1.8"/>
<line x1="383.29" y1="1065.4" x2="383.29" y2="1074.9" stroke="#000" stroke-width="1.8"/>
<line x1="404.81" y1="1065.4" x2="404.81" y2="1074.9" stroke="#000" stroke-width="1.8"/>
<line x1="426.33" y1="1065.4" x2="426.33" y2="1074.9" stroke="#000" stroke-width="1.8"/>
<line x1="447.86" y1="1065.4" x2="447.86" y2="1074.9" stroke="#000" stroke-width="1.8"/>
<line x1="469.38" y1="1065.4" x2="469.38" y2="1074.9" stroke="#000" stroke-width="1.8"/>
<line x1="490.90" y1="1065.4" x2="490.90" y2="1074.9" stroke="#000" stroke-width="1.8"/>
<line x1="512.43" y1="1065.4" x2="512.43" y2="1074.9" stroke="#000" stroke-width="1.8"/>
<line x1="533.95" y1="1065.4" x2="533.95" y2="1074.9" stroke="#000" stroke-width="1.8"/>
<line x1="555.47" y1="1065.4" x2="555.47" y2="1074.9" stroke="#000" stroke-width="1.8"/>
<line x1="577.00" y1="1065.4" x2="577.00" y2="1074.9" stroke="#000" stroke-width="1.8"/>
<line x1="598.52" y1="1065.4" x2="598.52" y2="1074.9" stroke="#000" stroke-width="1.8"/>
<line x1="620.04" y1="1065.4" x2="620.04" y2="1074.9" stroke="#000" stroke-width="1.8"/>
<line x1="641.57" y1="1065.4" x2="641.57" y2="1074.9" stroke="#000" stroke-width="1.8"/>
<line x1="663.09" y1="1065.4" x2="663.09" y2="1074.9" stroke="#000" stroke-width="1.8"/>
<line x1="684.61" y1="1065.4" x2="684.61" y2="1074.9" stroke="#000" stroke-width="1.8"/>
<line x1="706.14" y1="1065.4" x2="706.14" y2="1074.9" stroke="#000" stroke-width="1.8"/>
<line x1="727.66" y1="1065.4" x2="727.66" y2="1074.9" stroke="#000" stroke-width="1.8"/>
<line x1="749.18" y1="1065.4" x2="749.18" y2="1074.9" stroke="#000" stroke-width="1.8"/>
<line x1="770.71" y1="1065.4" x2="770.71" y2="1074.9" stroke="#000" stroke-width="1.8"/>
<line x1="792.23" y1="1065.4" x2="792.23" y2="1074.9" stroke="#000" stroke-width="1.8"/>
<line x1="813.75" y1="1065.4" x2="813.75" y2="1074.9" stroke="#000" stroke-width="1.8"/>
<line x1="835.28" y1="1065.4" x2="835.28" y2="1074.9" stroke="#000" stroke-width="1.8"/>
<polyline points="221.86,754.25 243.38,758.00 264.91,763.75 286.43,760.75 307.95,768.25 329.48,777.00 351.00,782.00 372.52,777.00 394.05,769.25 415.57,772.50 437.09,780.50 458.62,789.25 480.14,777.00 501.66,772.00 523.19,767.00 544.71,768.25 566.23,771.25 587.76,775.00 609.28,781.25 630.80,787.00 652.33,797.25 673.85,806.25 695.37,815.75 716.90,820.00 738.42,785.75 759.94,788.75 781.47,768.75 802.99,754.50 824.51,757.00 846.04,760.75" fill="none" stroke="#800000" stroke-width="4.2" stroke-linejoin="round" stroke-linecap="round"/>
<polygon points="221.86,748.65 227.86,758.45 215.86,758.45" fill="#008000" stroke="#ffff00" stroke-width="1.5" stroke-linejoin="miter"/>
<polygon points="243.38,752.40 249.38,762.20 237.38,762.20" fill="#008000" stroke="#ffff00" stroke-width="1.5" stroke-linejoin="miter"/>
<polygon points="264.91,758.15 270.91,767.95 258.91,767.95" fill="#008000" stroke="#ffff00" stroke-width="1.5" stroke-linejoin="miter"/>
<polygon points="286.43,755.15 292.43,764.95 280.43,764.95" fill="#008000" stroke="#ffff00" stroke-width="1.5" stroke-linejoin="miter"/>
<polygon points="307.95,762.65 313.95,772.45 301.95,772.45" fill="#008000" stroke="#ffff00" stroke-width="1.5" stroke-linejoin="miter"/>
<polygon points="329.48,771.40 335.48,781.20 323.48,781.20" fill="#008000" stroke="#ffff00" stroke-width="1.5" stroke-linejoin="miter"/>
<polygon points="351.00,776.40 357.00,786.20 345.00,786.20" fill="#008000" stroke="#ffff00" stroke-width="1.5" stroke-linejoin="miter"/>
<polygon points="372.52,771.40 378.52,781.20 366.52,781.20" fill="#008000" stroke="#ffff00" stroke-width="1.5" stroke-linejoin="miter"/>
<polygon points="394.05,763.65 400.05,773.45 388.05,773.45" fill="#008000" stroke="#ffff00" stroke-width="1.5" stroke-linejoin="miter"/>
<polygon points="415.57,766.90 421.57,776.70 409.57,776.70" fill="#008000" stroke="#ffff00" stroke-width="1.5" stroke-linejoin="miter"/>
<polygon points="437.09,774.90 443.09,784.70 431.09,784.70" fill="#008000" stroke="#ffff00" stroke-width="1.5" stroke-linejoin="miter"/>
<polygon points="458.62,783.65 464.62,793.45 452.62,793.45" fill="#008000" stroke="#ffff00" stroke-width="1.5" stroke-linejoin="miter"/>
<polygon points="480.14,771.40 486.14,781.20 474.14,781.20" fill="#008000" stroke="#ffff00" stroke-width="1.5" stroke-linejoin="miter"/>
<polygon points="501.66,766.40 507.66,776.20 495.66,776.20" fill="#008000" stroke="#ffff00" stroke-width="1.5" stroke-linejoin="miter"/>
<polygon points="523.19,761.40 529.19,771.20 517.19,771.20" fill="#008000" stroke="#ffff00" stroke-width="1.5" stroke-linejoin="miter"/>
<polygon points="544.71,762.65 550.71,772.45 538.71,772.45" fill="#008000" stroke="#ffff00" stroke-width="1.5" stroke-linejoin="miter"/>
<polygon points="566.23,765.65 572.23,775.45 560.23,775.45" fill="#008000" stroke="#ffff00" stroke-width="1.5" stroke-linejoin="miter"/>
<polygon points="587.76,769.40 593.76,779.20 581.76,779.20" fill="#008000" stroke="#ffff00" stroke-width="1.5" stroke-linejoin="miter"/>
<polygon points="609.28,775.65 615.28,785.45 603.28,785.45" fill="#008000" stroke="#ffff00" stroke-width="1.5" stroke-linejoin="miter"/>
<polygon points="630.80,781.40 636.80,791.20 624.80,791.20" fill="#008000" stroke="#ffff00" stroke-width="1.5" stroke-linejoin="miter"/>
<polygon points="652.33,791.65 658.33,801.45 646.33,801.45" fill="#008000" stroke="#ffff00" stroke-width="1.5" stroke-linejoin="miter"/>
<polygon points="673.85,800.65 679.85,810.45 667.85,810.45" fill="#008000" stroke="#ffff00" stroke-width="1.5" stroke-linejoin="miter"/>
<polygon points="695.37,810.15 701.37,819.95 689.37,819.95" fill="#008000" stroke="#ffff00" stroke-width="1.5" stroke-linejoin="miter"/>
<polygon points="716.90,814.40 722.90,824.20 710.90,824.20" fill="#008000" stroke="#ffff00" stroke-width="1.5" stroke-linejoin="miter"/>
<polygon points="738.42,780.15 744.42,789.95 732.42,789.95" fill="#008000" stroke="#ffff00" stroke-width="1.5" stroke-linejoin="miter"/>
<polygon points="759.94,783.15 765.94,792.95 753.94,792.95" fill="#008000" stroke="#ffff00" stroke-width="1.5" stroke-linejoin="miter"/>
<polygon points="781.47,763.15 787.47,772.95 775.47,772.95" fill="#008000" stroke="#ffff00" stroke-width="1.5" stroke-linejoin="miter"/>
<polygon points="802.99,748.90 808.99,758.70 796.99,758.70" fill="#008000" stroke="#ffff00" stroke-width="1.5" stroke-linejoin="miter"/>
<polygon points="824.51,751.40 830.51,761.20 818.51,761.20" fill="#008000" stroke="#ffff00" stroke-width="1.5" stroke-linejoin="miter"/>
<polygon points="846.04,755.15 852.04,764.95 840.04,764.95" fill="#008000" stroke="#ffff00" stroke-width="1.5" stroke-linejoin="miter"/>
<text x="186.60" y="737.50" font-size="15.5" font-weight="bold" text-anchor="end" fill="#000" stroke="#000" stroke-width="0.25" textLength="39.5" lengthAdjust="spacingAndGlyphs" xml:space="preserve">22,0</text>
<text x="874.60" y="737.50" font-size="15.5" font-weight="bold" text-anchor="start" fill="#000" stroke="#000" stroke-width="0.25" textLength="33.5" lengthAdjust="spacingAndGlyphs" xml:space="preserve">110</text>
<text x="186.60" y="767.60" font-size="15.5" font-weight="bold" text-anchor="end" fill="#000" stroke="#000" stroke-width="0.25" textLength="39.5" lengthAdjust="spacingAndGlyphs" xml:space="preserve">20,0</text>
<text x="874.60" y="767.60" font-size="15.5" font-weight="bold" text-anchor="start" fill="#000" stroke="#000" stroke-width="0.25" textLength="33.5" lengthAdjust="spacingAndGlyphs" xml:space="preserve">100</text>
<text x="186.60" y="799.00" font-size="15.5" font-weight="bold" text-anchor="end" fill="#000" stroke="#000" stroke-width="0.25" textLength="39.5" lengthAdjust="spacingAndGlyphs" xml:space="preserve">18,0</text>
<text x="874.60" y="799.00" font-size="15.5" font-weight="bold" text-anchor="start" fill="#000" stroke="#000" stroke-width="0.25" textLength="22.0" lengthAdjust="spacingAndGlyphs" xml:space="preserve">90</text>
<text x="186.60" y="829.20" font-size="15.5" font-weight="bold" text-anchor="end" fill="#000" stroke="#000" stroke-width="0.25" textLength="39.5" lengthAdjust="spacingAndGlyphs" xml:space="preserve">16,0</text>
<text x="874.60" y="829.20" font-size="15.5" font-weight="bold" text-anchor="start" fill="#000" stroke="#000" stroke-width="0.25" textLength="22.0" lengthAdjust="spacingAndGlyphs" xml:space="preserve">80</text>
<text x="186.60" y="859.80" font-size="15.5" font-weight="bold" text-anchor="end" fill="#000" stroke="#000" stroke-width="0.25" textLength="39.5" lengthAdjust="spacingAndGlyphs" xml:space="preserve">14,0</text>
<text x="874.60" y="859.80" font-size="15.5" font-weight="bold" text-anchor="start" fill="#000" stroke="#000" stroke-width="0.25" textLength="22.0" lengthAdjust="spacingAndGlyphs" xml:space="preserve">70</text>
<text x="186.60" y="890.40" font-size="15.5" font-weight="bold" text-anchor="end" fill="#000" stroke="#000" stroke-width="0.25" textLength="39.5" lengthAdjust="spacingAndGlyphs" xml:space="preserve">12,0</text>
<text x="874.60" y="890.40" font-size="15.5" font-weight="bold" text-anchor="start" fill="#000" stroke="#000" stroke-width="0.25" textLength="22.0" lengthAdjust="spacingAndGlyphs" xml:space="preserve">60</text>
<text x="186.60" y="921.90" font-size="15.5" font-weight="bold" text-anchor="end" fill="#000" stroke="#000" stroke-width="0.25" textLength="39.5" lengthAdjust="spacingAndGlyphs" xml:space="preserve">10,0</text>
<text x="874.60" y="921.90" font-size="15.5" font-weight="bold" text-anchor="start" fill="#000" stroke="#000" stroke-width="0.25" textLength="22.0" lengthAdjust="spacingAndGlyphs" xml:space="preserve">50</text>
<text x="186.60" y="952.70" font-size="15.5" font-weight="bold" text-anchor="end" fill="#000" stroke="#000" stroke-width="0.25" textLength="29.6" lengthAdjust="spacingAndGlyphs" xml:space="preserve">8,0</text>
<text x="874.60" y="952.70" font-size="15.5" font-weight="bold" text-anchor="start" fill="#000" stroke="#000" stroke-width="0.25" textLength="22.0" lengthAdjust="spacingAndGlyphs" xml:space="preserve">40</text>
<text x="186.60" y="983.40" font-size="15.5" font-weight="bold" text-anchor="end" fill="#000" stroke="#000" stroke-width="0.25" textLength="29.6" lengthAdjust="spacingAndGlyphs" xml:space="preserve">6,0</text>
<text x="874.60" y="983.40" font-size="15.5" font-weight="bold" text-anchor="start" fill="#000" stroke="#000" stroke-width="0.25" textLength="22.0" lengthAdjust="spacingAndGlyphs" xml:space="preserve">30</text>
<text x="186.60" y="1013.60" font-size="15.5" font-weight="bold" text-anchor="end" fill="#000" stroke="#000" stroke-width="0.25" textLength="29.6" lengthAdjust="spacingAndGlyphs" xml:space="preserve">4,0</text>
<text x="874.60" y="1013.60" font-size="15.5" font-weight="bold" text-anchor="start" fill="#000" stroke="#000" stroke-width="0.25" textLength="22.0" lengthAdjust="spacingAndGlyphs" xml:space="preserve">20</text>
<text x="186.60" y="1044.80" font-size="15.5" font-weight="bold" text-anchor="end" fill="#000" stroke="#000" stroke-width="0.25" textLength="29.6" lengthAdjust="spacingAndGlyphs" xml:space="preserve">2,0</text>
<text x="874.60" y="1044.80" font-size="15.5" font-weight="bold" text-anchor="start" fill="#000" stroke="#000" stroke-width="0.25" textLength="22.0" lengthAdjust="spacingAndGlyphs" xml:space="preserve">10</text>
<text x="186.60" y="1075.50" font-size="15.5" font-weight="bold" text-anchor="end" fill="#000" stroke="#000" stroke-width="0.25" textLength="29.6" lengthAdjust="spacingAndGlyphs" xml:space="preserve">0,0</text>
<text x="874.60" y="1075.50" font-size="15.5" font-weight="bold" text-anchor="start" fill="#000" stroke="#000" stroke-width="0.25" textLength="10.6" lengthAdjust="spacingAndGlyphs" xml:space="preserve">0</text>
<text x="220.86" y="1097.80" font-size="15.5" font-weight="bold" text-anchor="middle" fill="#000" stroke="#000" stroke-width="0.25" textLength="10.6" lengthAdjust="spacingAndGlyphs" xml:space="preserve">1</text>
<text x="263.91" y="1097.80" font-size="15.5" font-weight="bold" text-anchor="middle" fill="#000" stroke="#000" stroke-width="0.25" textLength="10.6" lengthAdjust="spacingAndGlyphs" xml:space="preserve">3</text>
<text x="306.95" y="1097.80" font-size="15.5" font-weight="bold" text-anchor="middle" fill="#000" stroke="#000" stroke-width="0.25" textLength="10.6" lengthAdjust="spacingAndGlyphs" xml:space="preserve">5</text>
<text x="350.00" y="1097.80" font-size="15.5" font-weight="bold" text-anchor="middle" fill="#000" stroke="#000" stroke-width="0.25" textLength="10.6" lengthAdjust="spacingAndGlyphs" xml:space="preserve">7</text>
<text x="393.05" y="1097.80" font-size="15.5" font-weight="bold" text-anchor="middle" fill="#000" stroke="#000" stroke-width="0.25" textLength="10.6" lengthAdjust="spacingAndGlyphs" xml:space="preserve">9</text>
<text x="436.09" y="1097.80" font-size="15.5" font-weight="bold" text-anchor="middle" fill="#000" stroke="#000" stroke-width="0.25" textLength="21.6" lengthAdjust="spacingAndGlyphs" xml:space="preserve">11</text>
<text x="479.14" y="1097.80" font-size="15.5" font-weight="bold" text-anchor="middle" fill="#000" stroke="#000" stroke-width="0.25" textLength="21.6" lengthAdjust="spacingAndGlyphs" xml:space="preserve">13</text>
<text x="522.19" y="1097.80" font-size="15.5" font-weight="bold" text-anchor="middle" fill="#000" stroke="#000" stroke-width="0.25" textLength="21.6" lengthAdjust="spacingAndGlyphs" xml:space="preserve">15</text>
<text x="565.23" y="1097.80" font-size="15.5" font-weight="bold" text-anchor="middle" fill="#000" stroke="#000" stroke-width="0.25" textLength="21.6" lengthAdjust="spacingAndGlyphs" xml:space="preserve">17</text>
<text x="608.28" y="1097.80" font-size="15.5" font-weight="bold" text-anchor="middle" fill="#000" stroke="#000" stroke-width="0.25" textLength="21.6" lengthAdjust="spacingAndGlyphs" xml:space="preserve">19</text>
<text x="651.33" y="1097.80" font-size="15.5" font-weight="bold" text-anchor="middle" fill="#000" stroke="#000" stroke-width="0.25" textLength="21.6" lengthAdjust="spacingAndGlyphs" xml:space="preserve">21</text>
<text x="694.37" y="1097.80" font-size="15.5" font-weight="bold" text-anchor="middle" fill="#000" stroke="#000" stroke-width="0.25" textLength="21.6" lengthAdjust="spacingAndGlyphs" xml:space="preserve">23</text>
<text x="737.42" y="1097.80" font-size="15.5" font-weight="bold" text-anchor="middle" fill="#000" stroke="#000" stroke-width="0.25" textLength="21.6" lengthAdjust="spacingAndGlyphs" xml:space="preserve">25</text>
<text x="780.47" y="1097.80" font-size="15.5" font-weight="bold" text-anchor="middle" fill="#000" stroke="#000" stroke-width="0.25" textLength="21.6" lengthAdjust="spacingAndGlyphs" xml:space="preserve">27</text>
<text x="823.51" y="1097.80" font-size="15.5" font-weight="bold" text-anchor="middle" fill="#000" stroke="#000" stroke-width="0.25" textLength="21.6" lengthAdjust="spacingAndGlyphs" xml:space="preserve">29</text>
<text x="231.95" y="689.30" font-size="17.5" font-weight="bold" text-anchor="start" fill="#000" stroke="#000" stroke-width="0.25" textLength="653.9" lengthAdjust="spacingAndGlyphs" xml:space="preserve">Verlauf Niederschlag,Verdunstung und Bodenfeuchte</text>
<text x="390.50" y="711.40" font-size="17.5" font-weight="bold" text-anchor="start" fill="#000" stroke="#000" stroke-width="0.25" textLength="338.1" lengthAdjust="spacingAndGlyphs" xml:space="preserve">September 2010 für Coburg</text>
<text transform="translate(122.4,899) rotate(-90)" font-size="15" font-weight="bold" text-anchor="middle" textLength="69.5" lengthAdjust="spacingAndGlyphs" stroke="#000" stroke-width="0.6">Millimeter</text>
<text transform="translate(932.1,901) rotate(-90)" font-size="15.3" font-weight="bold" text-anchor="middle" textLength="154" lengthAdjust="spacingAndGlyphs" stroke="#000" stroke-width="0.6">%nutzbare Kapazität</text>
<rect x="99.5" y="1145" width="767.5" height="49" fill="#fff" stroke="#000" stroke-width="2"/>
<rect x="107.5" y="1152.7" width="37.8" height="9.6" fill="#0000d8" stroke="#00006a" stroke-width="1.2"/>
<text x="152.20" y="1163.00" font-size="15.2" font-weight="bold" text-anchor="start" fill="#000" stroke="#000" stroke-width="0.25" textLength="189.0" lengthAdjust="spacingAndGlyphs" xml:space="preserve">Niederschlag (mm)</text>
<rect x="491.5" y="1153.0" width="38" height="8.8" fill="#ffff00" stroke="#000" stroke-width="1.3"/>
<text x="536.30" y="1163.00" font-size="15.2" font-weight="bold" text-anchor="start" fill="#000" stroke="#000" stroke-width="0.25" textLength="211.0" lengthAdjust="spacingAndGlyphs" xml:space="preserve">pot. Verdunstung (mm)</text>
<line x1="108" y1="1182" x2="146.5" y2="1182" stroke="#800000" stroke-width="3.8" stroke-linecap="round"/>
<polygon points="126.80,1176.70 132.80,1186.50 120.80,1186.50" fill="#008000" stroke="#ffff00" stroke-width="1.5" stroke-linejoin="miter"/>
<text x="152.20" y="1188.00" font-size="15.2" font-weight="bold" text-anchor="start" fill="#000" stroke="#000" stroke-width="0.25" textLength="146.5" lengthAdjust="spacingAndGlyphs" xml:space="preserve">Bodenfeuchte in</text>
<text x="312.20" y="1188.00" font-size="15.2" font-weight="bold" text-anchor="start" fill="#000" stroke="#000" stroke-width="0.25" textLength="45.0" lengthAdjust="spacingAndGlyphs" xml:space="preserve">%nK</text>
<text x="363.70" y="1188.00" font-size="15.2" font-weight="bold" text-anchor="start" fill="#000" stroke="#000" stroke-width="0.25" textLength="114.0" lengthAdjust="spacingAndGlyphs" xml:space="preserve">(Sand.Lehm)</text>
<text x="499.6" y="1355.7" font-size="17.4" text-anchor="middle" fill="#222" textLength="62" lengthAdjust="spacingAndGlyphs">Seite 15</text>
</svg>
</body></html>
